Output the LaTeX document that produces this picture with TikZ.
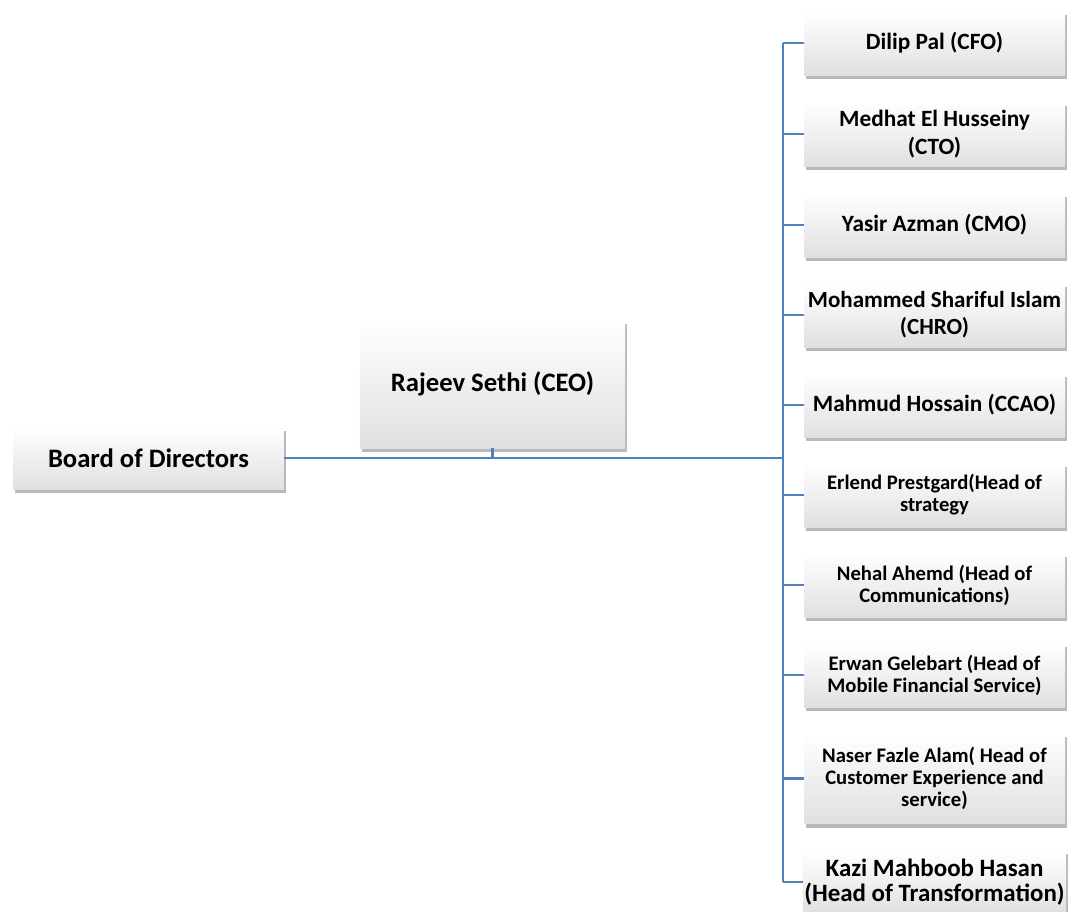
\documentclass[tikz,border=0pt]{standalone}
\usepackage{fontspec}
\setmainfont{Carlito}
\usetikzlibrary{positioning, shadows, calc}
\definecolor{orgblue}{RGB}{79,129,189}
\definecolor{orgshade}{RGB}{224,224,224}

\tikzset{
  orgbox/.style={rectangle, top color=white, bottom color=orgshade, align=center,
    inner sep=1pt, drop shadow={shadow xshift=1.5pt, shadow yshift=-3pt, opacity=0.55}},
  sidebox/.style={orgbox, minimum width=195.75pt, minimum height=48pt},
  txtbig/.style={font=\bfseries\fontsize{20}{24}\selectfont},
  txtmid/.style={font=\bfseries\fontsize{17.5}{21.5}\selectfont},
  txtsmall/.style={font=\bfseries\fontsize{15.5}{16.5}\selectfont},
  orgline/.style={draw=orgblue, line width=1.8pt}
}

\begin{document}
\begin{tikzpicture}[x=0.75pt, y=-0.75pt]
  \useasboundingbox (0,0) rectangle (1075,911);
  % Left side: board and chief executive
  \node[orgbox, txtbig, minimum width=203pt, minimum height=47pt] (board) at (148.5,458) {Board of Directors};
  \node[orgbox, txtbig, minimum width=199pt, minimum height=96pt] (ceo) at (492.5,384) {Rajeev Sethi (CEO)};
  % Right side: direct reports
  \node[sidebox, txtmid] (cfo) at (934.5,43) {Dilip Pal (CFO)};
  \node[sidebox, txtmid] (cto) at (934.5,134) {Medhat El Husseiny\\(CTO)};
  \node[sidebox, txtmid] (cmo) at (934.5,225) {Yasir Azman (CMO)};
  \node[sidebox, txtmid, font=\bfseries\fontsize{17.3}{20.3}\selectfont] (chro) at (934.5,315) {Mohammed Shariful Islam\\(CHRO)};
  \node[sidebox, txtmid] (ccao) at (934.5,405) {Mahmud Hossain (CCAO)};
  \node[sidebox, txtsmall] (strat) at (934.5,495) {Erlend Prestgard(Head of\\strategy};
  \node[sidebox, txtsmall] (comm) at (934.5,585) {Nehal Ahemd (Head of\\Communications)};
  \node[sidebox, txtsmall] (mfs) at (934.5,675) {Erwan Gelebart (Head of\\Mobile Financial Service)};
  \node[sidebox, txtsmall, minimum height=68pt] (cxs) at (934.5,778.5) {Naser Fazle Alam( Head of\\Customer Experience and\\service)};
  \node[sidebox, font=\bfseries\fontsize{18.7}{19}\selectfont] (trans) at (934.5,882) {Kazi Mahboob Hasan\\(Head of Transformation)};

  % Connectors
  \coordinate (bus) at (783,458);
  \draw[orgline] (board.east) -- (bus);
  \draw[orgline] (ceo.south) -- (ceo.south |- bus);
  \draw[orgline] (cfo.west -| bus) -- (trans.west -| bus);
  \foreach \n in {cfo, cto, cmo, chro, ccao, strat, comm, mfs, cxs, trans} {
    \draw[orgline] (\n.west -| bus) -- (\n.west);
  }
\end{tikzpicture}
\end{document}
